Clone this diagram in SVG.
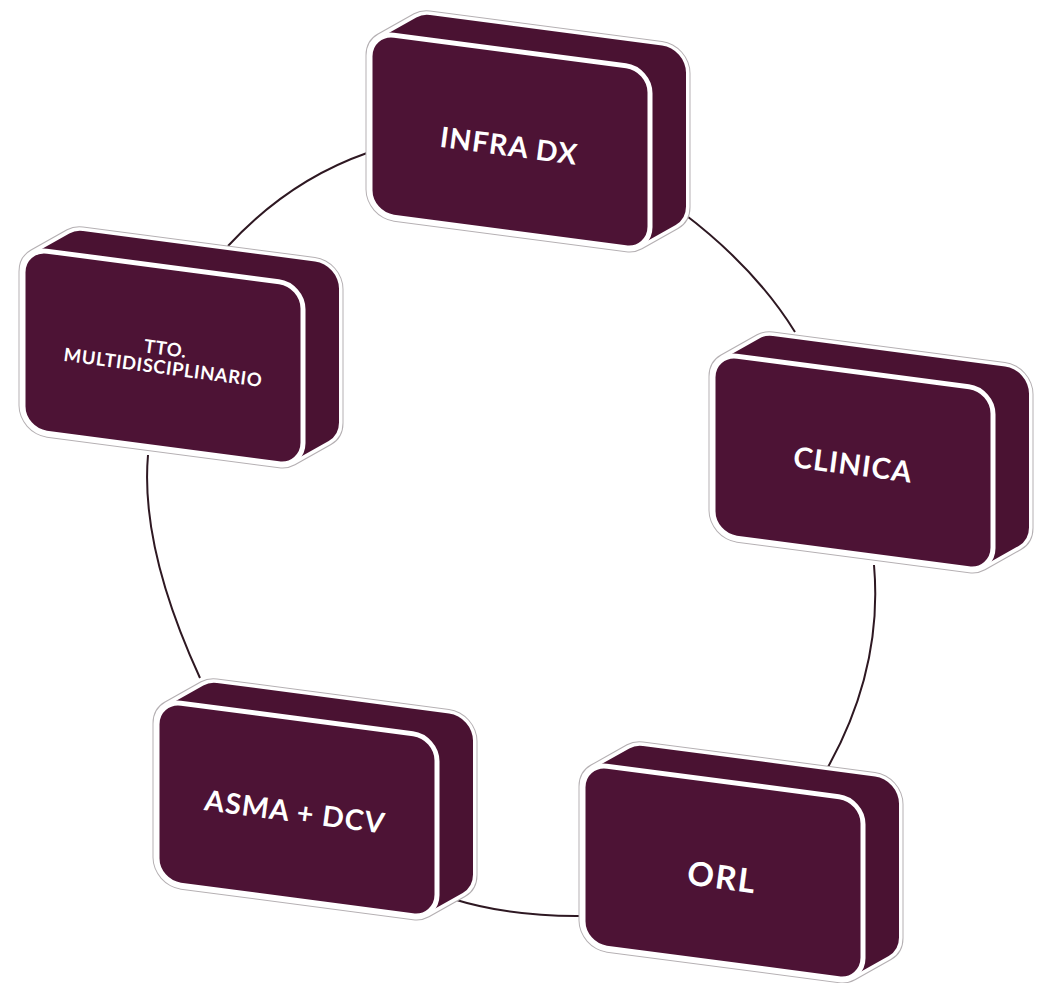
<svg xmlns="http://www.w3.org/2000/svg" width="1046" height="983" viewBox="0 0 1046 983">
  <defs>
    <style>
      .hull-o { fill: #b5b0b3; stroke: #b5b0b3; stroke-width: 57; stroke-linejoin: round; }
      .hull-w { fill: #ffffff; stroke: #ffffff; stroke-width: 55; stroke-linejoin: round; }
      .hull-f { fill: #4a1232; stroke: #4a1232; stroke-width: 48; stroke-linejoin: round; }
      .front { fill: #4d1335; stroke: #ffffff; stroke-width: 5; }
      .lbl { font-family: Lato, "Open Sans", "Liberation Sans", sans-serif; font-weight: 700; fill: #ffffff; text-anchor: middle; }
      .conn { fill: none; stroke: #2e1822; stroke-width: 2; }
    </style>
    <g id="box">
      <polygon class="hull-o" points="24,24 60,-1 292,-1 292,133 256,158 24,158"/>
      <polygon class="hull-w" points="24,24 60,-1 292,-1 292,133 256,158 24,158"/>
      <polygon class="hull-f" points="24,24 60,-1 292,-1 292,133 256,158 24,158"/>
      <rect class="front" x="0" y="0" width="280" height="182" rx="24" ry="24"/>
    </g>
  </defs>
  <rect width="1046" height="983" fill="#ffffff"/>
  <g id="connectors">
    <path class="conn" d="M367,153 Q288.5,180.5 228,246"/>
    <path class="conn" d="M683,213 Q755,267.5 795,332"/>
    <path class="conn" d="M148,455 Q140,547.5 200,678"/>
    <path class="conn" d="M874,565 Q883,668 828,767"/>
    <path class="conn" d="M453,899 Q509.5,916.5 580,916"/>
  </g>
  <g id="node-infra">
    <use href="#box" transform="translate(370,32) skewY(7.5)"/>
    <text class="lbl" font-size="28.5" letter-spacing="1" transform="translate(509,146) rotate(7.5)" y="10">INFRA DX</text>
  </g>
  <g id="node-tto">
    <use href="#box" transform="translate(23,248) skewY(7.5)"/>
    <g transform="translate(164,360) rotate(7.5)">
      <text class="lbl" font-size="18.5" letter-spacing="0.6" y="-5">TTO.</text>
      <text class="lbl" font-size="18.5" letter-spacing="0.6" y="14">MULTIDISCIPLINARIO</text>
    </g>
  </g>
  <g id="node-clinica">
    <use href="#box" transform="translate(713,353) skewY(7.5)"/>
    <text class="lbl" font-size="29" letter-spacing="1" transform="translate(853,465) rotate(7.5)" y="10">CLINICA</text>
  </g>
  <g id="node-asma">
    <use href="#box" transform="translate(157,700) skewY(7.5)"/>
    <text class="lbl" font-size="28.5" letter-spacing="1" transform="translate(295,812) rotate(7.5)" y="10">ASMA + DCV</text>
  </g>
  <g id="node-orl">
    <use href="#box" transform="translate(583,763) skewY(7.5)"/>
    <text class="lbl" font-size="33" letter-spacing="1.5" transform="translate(722,877) rotate(7.5)" y="12">ORL</text>
  </g>
</svg>
